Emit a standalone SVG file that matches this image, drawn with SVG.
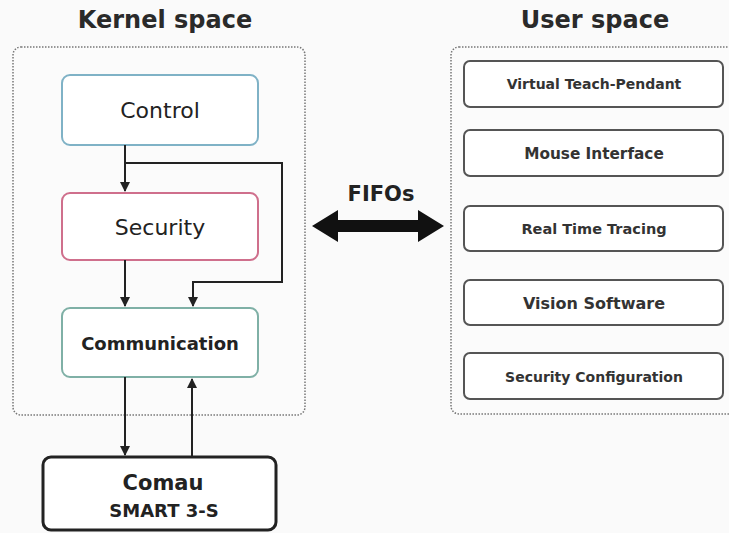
<svg xmlns="http://www.w3.org/2000/svg" width="729" height="533" viewBox="0 0 729 533">
<defs>
<style>
.t{font-family:"DejaVu Sans","Liberation Sans",sans-serif;text-anchor:middle;fill:#222}
.title{font-size:24px;font-weight:bold;fill:#2a2a2a}
.area{fill:#fbfbfb;stroke:#777;stroke-width:1.5;stroke-dasharray:1.5 1.5}
.ub{fill:#fff;stroke:#555;stroke-width:2}
.ut{font-weight:bold;fill:#333}
.line{fill:none;stroke:#222;stroke-width:2}
</style>
<marker id="ah" viewBox="0 0 10 10" refX="9" refY="5" markerWidth="5" markerHeight="5" orient="auto">
<path d="M0,0 L10,5 L0,10 z" fill="#222"/>
</marker>
</defs>
<rect width="729" height="533" fill="#fafafa"/>
<text class="t title" x="165" y="28">Kernel space</text>
<text class="t title" x="595" y="28">User space</text>
<g id="kernel-space"><rect class="area" x="13" y="47" width="292" height="368" rx="8"/></g>
<g id="user-space"><rect class="area" x="451" y="47" width="290" height="367" rx="8"/></g>
<g id="control">
<rect x="62" y="75" width="196" height="70" rx="8" fill="#fff" stroke="#7fb2c6" stroke-width="2"/>
<text class="t" x="160" y="118" font-size="22" fill="#444">Control</text>
</g>
<g id="security">
<rect x="62" y="193" width="196" height="67" rx="8" fill="#fff" stroke="#cf6f8c" stroke-width="2"/>
<text class="t" x="160" y="235" font-size="22" fill="#555">Security</text>
</g>
<g id="communication">
<rect x="62" y="308" width="196" height="69" rx="8" fill="#fff" stroke="#7fb0a6" stroke-width="2"/>
<text class="t" x="160" y="350" font-size="18" font-weight="bold">Communication</text>
</g>
<g id="comau">
<rect x="43" y="457" width="233" height="73" rx="8" fill="#fff" stroke="#222" stroke-width="3"/>
<text class="t" x="163" y="490" font-size="21" font-weight="bold">Comau</text>
<text class="t" x="164" y="517" font-size="18" font-weight="bold">SMART 3-S</text>
</g>
<g id="vtp"><rect class="ub" x="464" y="61" width="259" height="46" rx="6"/><text class="t ut" x="594" y="89" font-size="14">Virtual Teach-Pendant</text></g>
<g id="mouse"><rect class="ub" x="464" y="130" width="259" height="46" rx="6"/><text class="t ut" x="594" y="159" font-size="15.3">Mouse Interface</text></g>
<g id="rtt"><rect class="ub" x="464" y="206" width="259" height="45" rx="6"/><text class="t ut" x="594" y="234" font-size="14.5">Real Time Tracing</text></g>
<g id="vision"><rect class="ub" x="464" y="280" width="259" height="45" rx="6"/><text class="t ut" x="594" y="309" font-size="16">Vision Software</text></g>
<g id="seccfg"><rect class="ub" x="464" y="353" width="259" height="46" rx="6"/><text class="t ut" x="594" y="382" font-size="14">Security Configuration</text></g>
<g id="fifos">
<text class="t" x="381" y="201" font-size="21" font-weight="bold">FIFOs</text>
<path d="M312,226 L338,210 L338,220 L418,220 L418,210 L444,226 L418,242 L418,232 L338,232 L338,242 z" fill="#111"/>
</g>
<g id="connectors">
<path class="line" d="M125,145 V191" marker-end="url(#ah)"/>
<path class="line" d="M125,163 H282 V282 H193 V306" marker-end="url(#ah)"/>
<path class="line" d="M125,260 V306" marker-end="url(#ah)"/>
<path class="line" d="M125,377 V455" marker-end="url(#ah)"/>
<path class="line" d="M192,457 V379" marker-end="url(#ah)"/>
</g>
</svg>
